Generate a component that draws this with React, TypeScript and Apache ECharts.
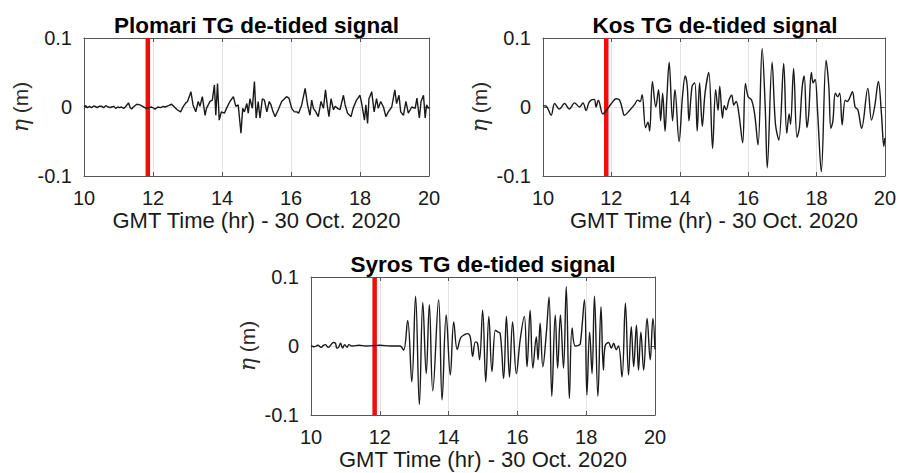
import React, { useEffect, useRef } from "react";
import * as echarts from "echarts";

const FONT = "'Liberation Sans', Arial, Helvetica, sans-serif";

const titles = ["Plomari TG de-tided signal", "Kos TG de-tided signal", "Syros TG de-tided signal"];
const xTicks = { min: 10, max: 20, interval: 2 };
const yTicks = { min: -0.1, max: 0.1, interval: 0.1 };
const xName = "GMT Time (hr) - 30 Oct. 2020";
const eventTime = 11.85;

const plomari: [number, number][] = [
  [10.0, 0], [10.05, 0.002], [10.1, -0.001], [10.16, 0.001], [10.22, -0.001], [10.27, 0.001], [10.32, 0.001],
  [10.38, -0.001], [10.44, 0.001], [10.51, 0.001], [10.57, -0.001], [10.63, 0.002], [10.7, 0], [10.76, -0.001],
  [10.8, 0], [10.86, 0.001], [10.92, -0.002], [10.98, 0], [11.03, -0.001], [11.09, 0], [11.15, -0.002], [11.2, 0],
  [11.29, 0.006], [11.34, -0.001], [11.38, -0.003], [11.43, 0], [11.53, 0.004], [11.62, 0.003], [11.7, 0.001],
  [11.8, -0.002], [11.88, -0.001], [11.96, 0], [12.06, -0.003], [12.14, 0], [12.22, -0.001], [12.3, 0.001],
  [12.35, 0], [12.45, 0.002], [12.54, 0.004], [12.62, 0], [12.7, -0.004], [12.8, -0.007], [12.88, 0.001],
  [12.95, 0.006], [13.0, 0.008], [13.05, 0.015], [13.1, 0.022], [13.16, 0.003], [13.24, -0.007], [13.31, 0.008],
  [13.36, 0.001], [13.43, 0.015], [13.51, -0.012], [13.55, -0.002], [13.59, 0.002], [13.65, 0.008], [13.72, 0.01],
  [13.78, 0.032], [13.82, -0.012], [13.87, 0.034], [13.92, -0.019], [13.98, -0.007], [14.07, -0.009], [14.13, -0.002],
  [14.23, 0.008], [14.33, 0.015], [14.4, 0.001], [14.47, 0.003], [14.55, -0.038], [14.6, -0.002], [14.65, -0.007],
  [14.72, 0.005], [14.76, -0.009], [14.81, 0.012], [14.88, -0.002], [14.94, 0.037], [14.99, -0.016], [15.05, 0.008],
  [15.1, -0.016], [15.17, 0.012], [15.23, 0.01], [15.3, -0.007], [15.37, 0.008], [15.42, 0.003], [15.48, -0.007],
  [15.54, -0.014], [15.63, -0.004], [15.73, 0.008], [15.81, 0.012], [15.87, 0.015], [15.94, 0.013], [16.02, -0.002],
  [16.1, -0.007], [16.17, -0.007], [16.22, -0.009], [16.31, 0.003], [16.41, 0.027], [16.48, 0.003], [16.55, -0.012],
  [16.6, 0.01], [16.65, -0.002], [16.72, -0.007], [16.79, -0.014], [16.87, 0.008], [16.94, -0.002], [17.0, 0.025],
  [17.05, 0.003], [17.1, -0.014], [17.16, 0.012], [17.23, -0.004], [17.28, 0.001], [17.35, -0.002], [17.42, -0.004],
  [17.52, 0.017], [17.57, 0.003], [17.64, -0.009], [17.74, -0.014], [17.8, -0.002], [17.9, 0.01], [18.0, 0.017],
  [18.05, 0.005], [18.13, -0.019], [18.17, 0.003], [18.22, -0.024], [18.26, 0.012], [18.34, 0.022], [18.41, -0.007],
  [18.48, 0.012], [18.53, -0.002], [18.6, 0.008], [18.68, 0.0], [18.75, -0.014], [18.82, -0.007], [18.92, 0.0],
  [19.01, 0.025], [19.06, 0.005], [19.13, 0.017], [19.18, -0.007], [19.26, -0.012], [19.33, 0.008], [19.4, -0.009],
  [19.5, 0.0], [19.6, -0.002], [19.65, 0.013], [19.72, -0.016], [19.77, 0.008], [19.84, 0.017], [19.89, -0.016],
  [19.93, 0.003], [19.98, -0.002], [20.0, 0],
];

const kos: [number, number][] = [
  [10.0, 0.002], [10.1, 0.001], [10.24, -0.012], [10.34, 0.005], [10.48, -0.003], [10.63, 0.005], [10.77, -0.003],
  [10.92, 0.006], [11.07, 0], [11.17, 0.006], [11.26, -0.005], [11.36, 0.008], [11.5, 0.011], [11.55, 0],
  [11.62, 0.01], [11.75, -0.01], [11.85, -0.005], [12.0, 0.005], [12.14, 0.012], [12.24, 0.01], [12.33, -0.005],
  [12.38, -0.012], [12.53, -0.005], [12.67, 0.003], [12.77, 0.01], [12.84, 0.008], [12.9, 0.018], [13.0, -0.03],
  [13.07, -0.022], [13.12, -0.035], [13.2, 0.037], [13.3, 0.0], [13.38, 0.025], [13.44, -0.02], [13.5, 0.02],
  [13.57, -0.035], [13.62, 0.01], [13.69, 0.065], [13.79, -0.02], [13.86, 0.025], [13.98, -0.05], [14.08, 0.015],
  [14.16, 0.045], [14.22, 0.03], [14.27, -0.02], [14.36, 0.03], [14.44, 0.035], [14.51, -0.035], [14.58, 0.035],
  [14.66, -0.028], [14.74, 0.02], [14.85, 0.05], [14.96, -0.06], [15.05, 0.025], [15.12, -0.005], [15.17, 0.03],
  [15.25, -0.016], [15.3, 0.002], [15.36, -0.004], [15.44, 0.01], [15.52, 0.017], [15.58, 0.003], [15.65, 0.008],
  [15.73, -0.01], [15.84, -0.052], [15.92, 0.034], [16.0, 0.015], [16.1, 0.01], [16.19, -0.01], [16.29, -0.055],
  [16.41, 0.085], [16.5, 0.0], [16.56, -0.088], [16.7, 0.065], [16.8, -0.025], [16.9, -0.048], [17.04, 0.063],
  [17.13, -0.038], [17.2, -0.01], [17.24, -0.025], [17.33, 0.056], [17.43, -0.044], [17.5, -0.03], [17.58, 0.028],
  [17.64, 0.045], [17.72, -0.03], [17.77, -0.012], [17.85, 0.05], [17.9, 0.035], [17.96, 0.04], [18.03, -0.005],
  [18.14, -0.094], [18.28, 0.068], [18.36, 0.03], [18.42, -0.031], [18.48, -0.02], [18.55, 0.02], [18.62, 0.015],
  [18.68, 0.02], [18.75, -0.026], [18.84, 0.01], [18.9, 0.008], [18.96, 0.012], [19.05, 0.022], [19.13, 0.0],
  [19.21, -0.004], [19.32, -0.031], [19.5, 0.027], [19.61, -0.019], [19.7, 0.0], [19.81, 0.037], [19.9, -0.01],
  [19.97, -0.057], [20.0, -0.045],
];

const syros: [number, number][] = [
  [10.0, 0], [10.1, -0.001], [10.2, 0.001], [10.3, -0.002], [10.36, 0.001], [10.42, 0.002], [10.5, -0.002],
  [10.57, 0.001], [10.65, 0.005], [10.71, 0.004], [10.75, -0.003], [10.8, -0.002], [10.86, 0.004], [10.92, -0.003],
  [10.98, 0.002], [11.05, -0.002], [11.1, 0.002], [11.2, 0], [11.4, 0.001], [11.6, 0], [12.0, 0.001], [12.3, 0],
  [12.59, 0], [12.69, -0.006], [12.81, 0.037], [12.93, -0.052], [13.04, 0.072], [13.15, -0.085], [13.25, 0.063],
  [13.35, -0.04], [13.44, 0.06], [13.54, -0.065], [13.71, 0.067], [13.81, -0.078], [13.93, 0.045], [14.05, -0.042],
  [14.15, 0.035], [14.25, -0.005], [14.35, 0.012], [14.45, 0.016], [14.55, 0.018], [14.63, 0.013], [14.7, -0.015],
  [14.78, 0.006], [14.84, 0.004], [14.9, -0.02], [14.99, 0.052], [15.08, -0.052], [15.17, 0.043], [15.26, -0.037],
  [15.36, 0.023], [15.41, 0.021], [15.5, 0.018], [15.6, -0.047], [15.68, 0.043], [15.77, -0.045], [15.86, 0.035],
  [15.97, -0.04], [16.08, 0.009], [16.2, 0.043], [16.28, -0.03], [16.37, 0.052], [16.45, -0.032], [16.55, 0.013],
  [16.6, -0.02], [16.66, 0.033], [16.74, -0.03], [16.84, 0.018], [16.92, 0.071], [17.0, -0.073], [17.1, 0.045],
  [17.17, -0.032], [17.25, 0.045], [17.34, -0.032], [17.42, 0.086], [17.51, -0.076], [17.59, 0.026], [17.68, 0],
  [17.78, 0.001], [17.83, 0.003], [17.95, 0.067], [18.02, -0.071], [18.1, 0.02], [18.17, -0.04], [18.24, 0.072],
  [18.34, -0.073], [18.43, 0.057], [18.5, -0.035], [18.55, 0], [18.65, 0.005], [18.73, -0.003], [18.8, 0.004],
  [18.87, -0.005], [18.94, 0], [19.04, -0.045], [19.14, 0.062], [19.23, -0.042], [19.31, 0.028], [19.38, -0.03],
  [19.46, 0.03], [19.52, -0.035], [19.59, 0.02], [19.67, -0.035], [19.77, 0.04], [19.86, -0.02], [19.94, 0.04],
  [20.0, -0.005],
];

const signals = [plomari, kos, syros];
const smoothness = [0, 0.35, 0.4];

const gridBoxes = [
  { left: 84, top: 38, width: 345, height: 138 },
  { left: 543, top: 38, width: 344, height: 138 },
  { left: 311, top: 277, width: 344, height: 138 },
];

export default function App() {
  const ref = useRef<HTMLDivElement>(null);
  useEffect(() => {
    if (!ref.current) return;
    const chart = echarts.init(ref.current, undefined, { renderer: "svg" });
    const axisColor = "#555";
    const xAxes: any[] = [];
    const yAxes: any[] = [];
    const series: any[] = [];
    const graphics: any[] = [];
    gridBoxes.forEach((g, i) => {
      xAxes.push({
        type: "value", gridIndex: i, position: "bottom", ...xTicks,
        axisLine: { show: true, onZero: false, lineStyle: { color: axisColor, width: 1 } },
        axisTick: { show: true, inside: true, length: 4, lineStyle: { color: axisColor } },
        splitLine: { show: true, lineStyle: { color: "#e3e3e3", width: 1 } },
        axisLabel: { fontSize: 20, color: "#1a1a1a", fontFamily: FONT, margin: 12 },
        name: xName, nameLocation: "middle", nameGap: 33,
        nameTextStyle: { fontSize: 22, color: "#1a1a1a", fontFamily: FONT },
      });
      xAxes.push({
        type: "value", gridIndex: i, position: "top", ...xTicks,
        axisLine: { show: true, onZero: false, lineStyle: { color: axisColor, width: 1 } },
        axisTick: { show: true, inside: true, length: 4, lineStyle: { color: axisColor } },
        splitLine: { show: false }, axisLabel: { show: false },
      });
      yAxes.push({
        type: "value", gridIndex: i, position: "left", ...yTicks,
        axisLine: { show: true, onZero: false, lineStyle: { color: axisColor, width: 1 } },
        axisTick: { show: true, inside: true, length: 4, lineStyle: { color: axisColor } },
        splitLine: { show: true, lineStyle: { color: "#e3e3e3", width: 1 } },
        axisLabel: { fontSize: 20, color: "#1a1a1a", fontFamily: FONT, margin: 12, padding: [6, 0, 0, 0] },
        name: "{e|η} (m)", nameLocation: "middle", nameGap: 53,
        nameTextStyle: {
          fontSize: 21, color: "#2a2a2a", fontFamily: FONT,
          rich: { e: { fontSize: 22, fontFamily: "'DejaVu Serif', serif", fontStyle: "italic", color: "#2a2a2a" } },
        },
      });
      yAxes.push({
        type: "value", gridIndex: i, position: "right", ...yTicks,
        axisLine: { show: true, onZero: false, lineStyle: { color: axisColor, width: 1 } },
        axisTick: { show: true, inside: true, length: 4, lineStyle: { color: axisColor } },
        splitLine: { show: false }, axisLabel: { show: false },
      });
      series.push({
        type: "line", xAxisIndex: i * 2, yAxisIndex: i * 2, symbol: "none", silent: true, z: 2,
        data: [[eventTime, yTicks.min], [eventTime, yTicks.max]],
        lineStyle: { color: "#f00d0d", width: 4.5 },
      });
      series.push({
        type: "line", xAxisIndex: i * 2, yAxisIndex: i * 2, symbol: "none", silent: true, z: 3,
        smooth: smoothness[i] || false,
        data: signals[i],
        lineStyle: { color: "#1a1a1a", width: 1.4 },
      });
      graphics.push({
        type: "text", x: g.left + g.width / 2, y: g.top - 13,
        style: {
          text: titles[i], textAlign: "center", textVerticalAlign: "middle",
          font: `bold 22.5px ${FONT}`, fill: "#000",
        },
      });
    });
    chart.setOption({
      animation: false,
      backgroundColor: "#fff",
      grid: gridBoxes.map((g) => ({ ...g, containLabel: false })),
      xAxis: xAxes,
      yAxis: yAxes,
      series,
      graphic: graphics,
    });
    return () => chart.dispose();
  }, []);
  return <div ref={ref} style={{ position: "absolute", left: 0, top: 0, width: 899, height: 473 }} />;
}
